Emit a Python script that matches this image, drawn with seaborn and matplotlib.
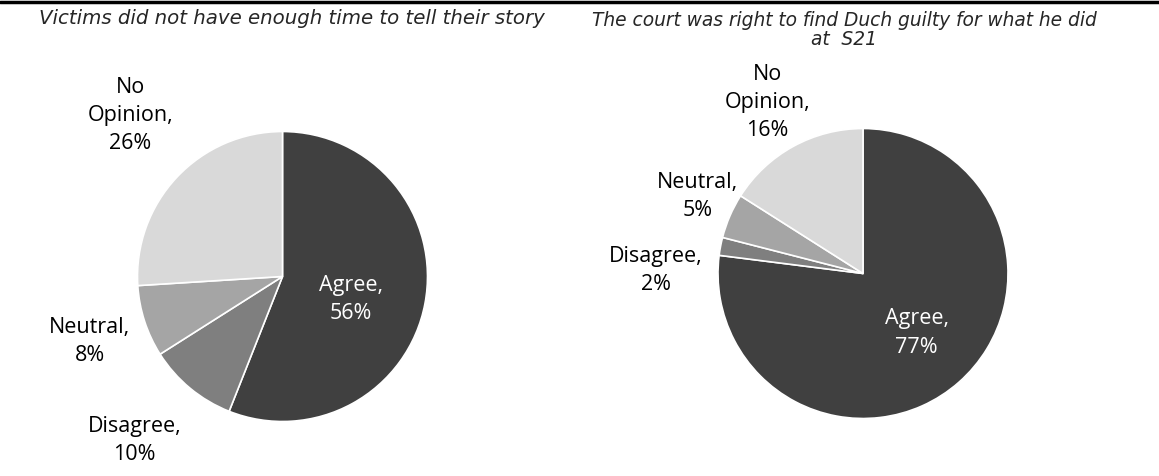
import matplotlib
matplotlib.use("Agg")
import matplotlib.pyplot as plt
import seaborn as sns
from matplotlib.lines import Line2D

sns.set_theme(style="white")

# === dados ===
categories = ["Agree", "Disagree", "Neutral", "No Opinion"]
victims_pct = [56, 10, 8, 26]
court_pct = [77, 2, 5, 16]
titles = ["Victims did not have enough time to tell their story",
          "The court was right to find Duch guilty for what he did\nat  S21"]
colors = ["#404040", "#7f7f7f", "#a5a5a5", "#d9d9d9"]

# label positions (in pie radius units), per wedge
victims_lbl_pos = [(0.47, -0.16), (-1.02, -1.13), (-1.33, -0.45), (-1.05, 1.11)]
court_lbl_pos = [(0.37, -0.41), (-1.43, 0.02), (-1.14, 0.53), (-0.66, 1.18)]

fig = plt.figure(figsize=(11.59, 4.76), dpi=100)
fig.patch.set_facecolor("white")

def draw_pie(rect, values, lbl_pos):
    ax = fig.add_axes(rect)
    ax.pie(values, colors=colors, startangle=90, counterclock=False,
           wedgeprops=dict(edgecolor="white", linewidth=1.2))
    for cat, v, (x, y), c in zip(categories, values, lbl_pos, colors):
        tc = "white" if c == "#404040" else "black"
        lbl = cat.replace(" ", "\n") if cat == "No Opinion" else cat
        ax.text(x, y, f"{lbl},\n{v}%", ha="center", va="center",
                fontsize=15.5, color=tc, family=["Open Sans", "DejaVu Sans"],
                linespacing=1.46)
    ax.set_xlim(-1.6, 1.6)
    ax.set_ylim(-1.6, 1.6)
    ax.set_aspect("equal")
    ax.axis("off")
    return ax

# pie radius ~145 px -> axes side = 3.2 * 145 = 464 px
draw_pie([(282.5 - 232) / 1159, (476 - 276.5 - 232) / 476, 464 / 1159, 464 / 476],
         victims_pct, victims_lbl_pos)
draw_pie([(863 - 232) / 1159, (476 - 273.5 - 232) / 476, 464 / 1159, 464 / 476],
         court_pct, court_lbl_pos)

fig.text(292 / 1159, 1 - 19 / 476, titles[0], ha="center", va="center",
         fontsize=14.2, style="italic", family="DejaVu Sans")
fig.text(844 / 1159, 1 - 30 / 476, titles[1], ha="center", va="center",
         fontsize=13.4, style="italic", family="DejaVu Sans", linespacing=1.05)

fig.add_artist(Line2D([0, 1], [1 - 1.5 / 476, 1 - 1.5 / 476], color="black",
                      linewidth=2.5, transform=fig.transFigure))

plt.savefig("out.png", dpi=100)
plt.close()
